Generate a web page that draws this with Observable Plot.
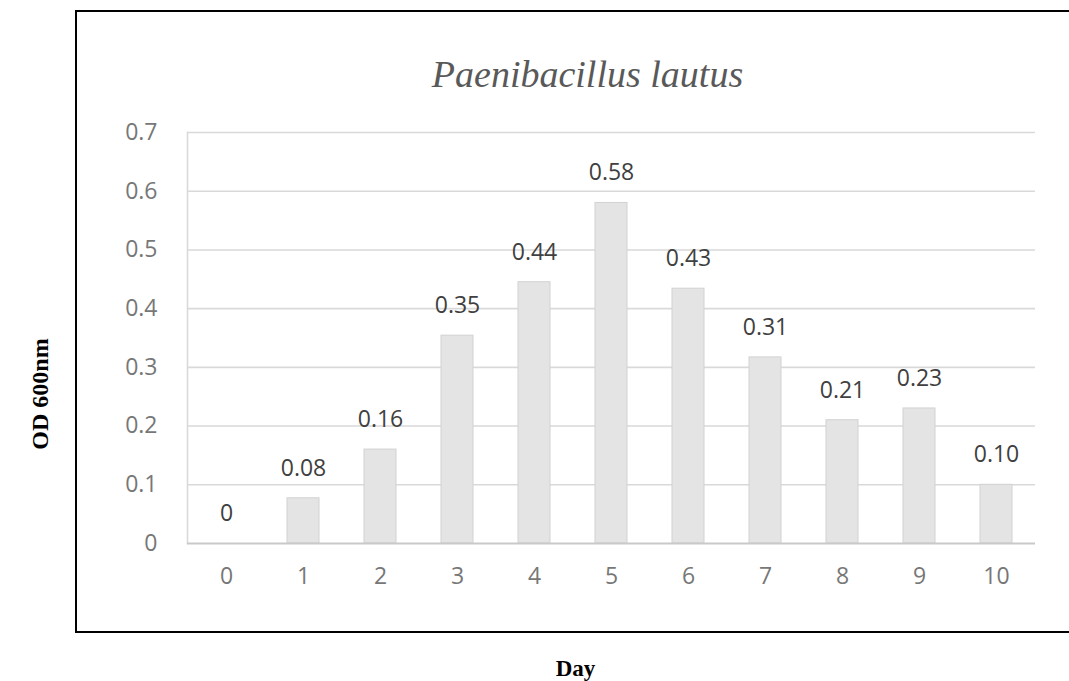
<!DOCTYPE html>
<html>
<head>
<meta charset="utf-8">
<script src="https://cdn.jsdelivr.net/npm/d3@7"></script>
<script src="https://cdn.jsdelivr.net/npm/@observablehq/plot@0.6"></script>
<style>
  html, body { margin: 0; padding: 0; background: #fff; }
  #wrap { position: relative; width: 1069px; height: 681px; overflow: hidden; }
  #box { position: absolute; left: 75px; top: 10px; width: 1000px; height: 619px;
         border-top: 2px solid #000; border-left: 2px solid #000; border-bottom: 2px solid #000; }
  #chart { position: absolute; left: 0; top: 0; }
  #chart svg text.num { letter-spacing: 1px; }
  #ytitle { position: absolute; left: 40px; top: 394px; transform: translate(-50%, -50%) rotate(-90deg);
            font: bold 24px 'Liberation Serif', serif; color: #000; white-space: nowrap; line-height: 1; }
</style>
</head>
<body>
<div id="wrap">
  <div id="chart"></div>
  <div id="box"></div>
  <div id="ytitle"></div>
</div>
<script>
const days = [0, 1, 2, 3, 4, 5, 6, 7, 8, 9, 10];
const od = [0, 0.077, 0.16, 0.354, 0.445, 0.58, 0.434, 0.317, 0.21, 0.23, 0.10];
const labels = ["0", "0.08", "0.16", "0.35", "0.44", "0.58", "0.43", "0.31", "0.21", "0.23", "0.10"];
const yTicks = [0, 0.1, 0.2, 0.3, 0.4, 0.5, 0.6, 0.7];
const title = "Paenibacillus lautus";
const yTitle = "OD 600nm";
const xTitle = "Day";

const data = days.map((d, i) => ({day: d, od: od[i], label: labels[i]}));

document.getElementById("ytitle").textContent = yTitle;

const chart = Plot.plot({
  width: 1069,
  height: 681,
  marginLeft: 187,
  marginRight: 34,
  marginTop: 132,
  marginBottom: 138,
  style: {fontFamily: "'Open Sans', sans-serif", background: "transparent"},
  x: {type: "band", domain: days, paddingInner: 0.58, paddingOuter: 0.25},
  y: {domain: [0, 0.7]},
  marks: [
    Plot.gridY(yTicks.slice(1), {stroke: "#d9d9d9", strokeOpacity: 1, strokeWidth: 1.6}),
    Plot.frame({anchor: "left", stroke: "#d9d9d9", strokeWidth: 1.6}),
    Plot.barY(data, {x: "day", y: "od", fill: "#e4e4e4", stroke: "#d2d2d2", strokeWidth: 1}),
    Plot.ruleY([0], {stroke: "#c9c9c9", strokeWidth: 2}),
    Plot.text(data, {x: "day", y: "od", text: "label", dy: -30, fontSize: 23, fill: "#404040", className: "num"}),
    Plot.axisY(yTicks, {tickSize: 0, tickPadding: 30, fontSize: 23, color: "#777777", label: null,
      tickFormat: d => String(d), className: "num"}),
    Plot.axisX({tickSize: 0, tickPadding: 24, fontSize: 23, color: "#777777", label: null, className: "num"}),
    Plot.text([title], {frameAnchor: "top", lineAnchor: "middle", dx: -24, dy: -58, fontSize: 38, fontStyle: "italic",
      fontFamily: "'Liberation Serif', serif", fill: "#595959"}),
    Plot.text([xTitle], {frameAnchor: "bottom", lineAnchor: "middle", dx: -36, dy: 125, fontSize: 23,
      fontWeight: "bold", fontFamily: "'Liberation Serif', serif", fill: "#000"})
  ]
});
document.getElementById("chart").appendChild(chart);
</script>
</body>
</html>
